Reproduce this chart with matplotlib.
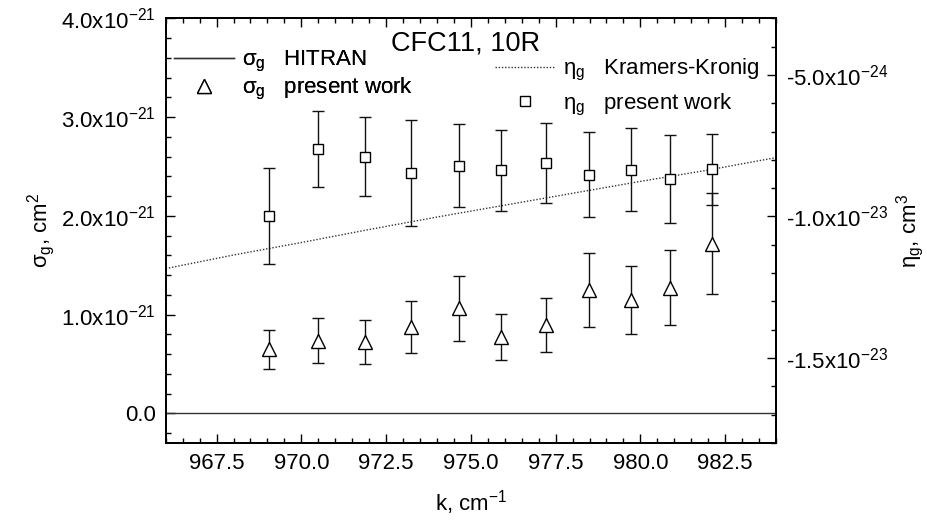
import numpy as np
import matplotlib
matplotlib.use('Agg')
import matplotlib.pyplot as plt
from matplotlib.lines import Line2D
from matplotlib.ticker import MultipleLocator, FuncFormatter

fam = 'Liberation Sans'
fs, ts = 16, 19.5

plt.rcParams['font.family'] = fam
plt.rcParams['mathtext.fontset'] = 'custom'
plt.rcParams['mathtext.rm'] = fam
plt.rcParams['mathtext.it'] = fam + ':italic'
plt.rcParams['mathtext.sf'] = fam
plt.rcParams['axes.unicode_minus'] = False
plt.rcParams['font.size'] = fs

# laser line wavenumbers, cm^-1
k = [969.05, 970.48, 971.89, 973.22, 974.64, 975.88, 977.21, 978.47, 979.71, 980.88, 982.12]
# sigma_g present work (units of 1e-21 cm^2)
sigma = [0.648, 0.737, 0.720, 0.872, 1.063, 0.772, 0.896, 1.247, 1.149, 1.272, 1.719]
sigma_err = [0.195, 0.224, 0.224, 0.265, 0.327, 0.233, 0.271, 0.373, 0.342, 0.381, 0.514]
# eta_g present work (units of 1e-24 cm^3)
eta = [-9.99, -7.62, -7.89, -8.47, -8.20, -8.37, -8.12, -8.52, -8.35, -8.68, -8.33]
eta_err = [1.69, 1.35, 1.40, 1.87, 1.46, 1.43, 1.41, 1.49, 1.47, 1.56, 1.25]
# HITRAN sigma_g and Kramers-Kronig eta_g
hitran_k = [966.0, 984.0]
hitran_sigma = [0.0, 0.0]
kk_k = [966, 968, 970, 972, 974, 976, 978, 980, 982, 984]
kk_eta = [-11.84, -11.36, -10.92, -10.46, -10.02, -9.60, -9.18, -8.76, -8.36, -7.92]

S = 1e-21
E = 1e-24


def sci(v, pos):
    if abs(v) < 1e-40:
        return '0.0'
    ex = int(np.floor(np.log10(abs(v)) + 1e-9))
    return '%.1fx10$\\mathregular{^{%d}}$' % (v / 10.0**ex, ex)


fig = plt.figure(figsize=(9.28, 5.32), dpi=100)
ax = fig.add_axes([0.1786, 0.1673, 0.6576, 0.7983])
ax2 = ax.twinx()

ax.plot(hitran_k, np.array(hitran_sigma) * S, color='#333333', lw=1.0)
ax.errorbar(k, np.array(sigma) * S, yerr=np.array(sigma_err) * S, fmt='^', ms=9.5,
            mfc='white', mec='black', mew=1.0, ecolor='#111111', elinewidth=1.0,
            capsize=4.5, capthick=1.0)
ax2.plot(kk_k, np.array(kk_eta) * E, color='#333333', lw=1.0, ls=(0, (1, 1.3)))
ax2.errorbar(k, np.array(eta) * E, yerr=np.array(eta_err) * E, fmt='s', ms=7,
             mfc='white', mec='black', mew=1.0, ecolor='#111111', elinewidth=1.0,
             capsize=4.5, capthick=1.0)

ax.set_xlim(966.0, 984.0)
ax.set_ylim(-0.3e-21, 4.0e-21)
ax2.set_ylim(-1.8e-23, -3.0e-24)

ax.xaxis.set_major_locator(MultipleLocator(2.5))
ax.xaxis.set_minor_locator(MultipleLocator(0.5))
ax.xaxis.set_major_formatter(FuncFormatter(lambda v, p: '%.1f' % v))
ax.yaxis.set_major_locator(MultipleLocator(1e-21))
ax.yaxis.set_minor_locator(MultipleLocator(0.2e-21))
ax.yaxis.set_major_formatter(FuncFormatter(sci))
ax2.yaxis.set_major_locator(MultipleLocator(5e-24))
ax2.yaxis.set_minor_locator(MultipleLocator(1e-24))
ax2.yaxis.set_major_formatter(FuncFormatter(sci))
ax.yaxis.get_offset_text().set_visible(False)
ax2.yaxis.get_offset_text().set_visible(False)

ax.tick_params(which='both', direction='in', top=True, right=False, width=1.0)
ax.tick_params(which='major', length=6.5)
ax.tick_params(which='minor', length=3.3)
ax.tick_params(axis='y', pad=7)
ax.tick_params(axis='x', pad=7)
ax2.tick_params(which='both', direction='in', width=1.0, pad=7)
ax2.tick_params(which='major', length=6.5)
ax2.tick_params(which='minor', length=3.3)
for a in (ax, ax2):
    for sp in a.spines.values():
        sp.set_linewidth(1.3)

ax.set_xlabel('k, cm$\\mathregular{^{-1}}$', labelpad=10)
ax.set_ylabel('$\\mathregular{\\sigma_g}$, cm$\\mathregular{^2}$', labelpad=3)
ax2.set_ylabel('$\\mathregular{\\eta_g}$, cm$\\mathregular{^3}$', labelpad=4)

fig.text(466 / 928, 1 - 44 / 532, 'CFC11, 10R', ha='center', va='center', fontsize=ts)

h1 = [Line2D([], [], color='#333333', lw=1.0),
      Line2D([], [], ls='none', marker='^', ms=9.5, mfc='white', mec='black', mew=1.0)]
l1 = ['$\\mathregular{\\sigma_g}$   HITRAN', '$\\mathregular{\\sigma_g}$   present work']
leg1 = ax.legend(h1, l1, loc='upper left', bbox_to_anchor=(174 / 928, 1 - 49 / 532),
                 bbox_transform=fig.transFigure, frameon=False, borderpad=0,
                 borderaxespad=0, handlelength=2.7, handletextpad=0.35,
                 labelspacing=0.1, fontsize=fs)
ax.add_artist(leg1)
h2 = [Line2D([], [], color='#333333', lw=1.0, ls=(0, (1, 1.3))),
      Line2D([], [], ls='none', marker='s', ms=7, mfc='white', mec='black', mew=1.0)]
l2 = ['$\\mathregular{\\eta_g}$   Kramers-Kronig', '$\\mathregular{\\eta_g}$   present work']
ax2.legend(h2, l2, loc='upper left', bbox_to_anchor=(495 / 928, 1 - 57 / 532),
           bbox_transform=fig.transFigure, frameon=False, borderpad=0,
           borderaxespad=0, handlelength=2.7, handletextpad=0.35,
           labelspacing=0.38, fontsize=fs)

fig.savefig('out.png', dpi=100)
